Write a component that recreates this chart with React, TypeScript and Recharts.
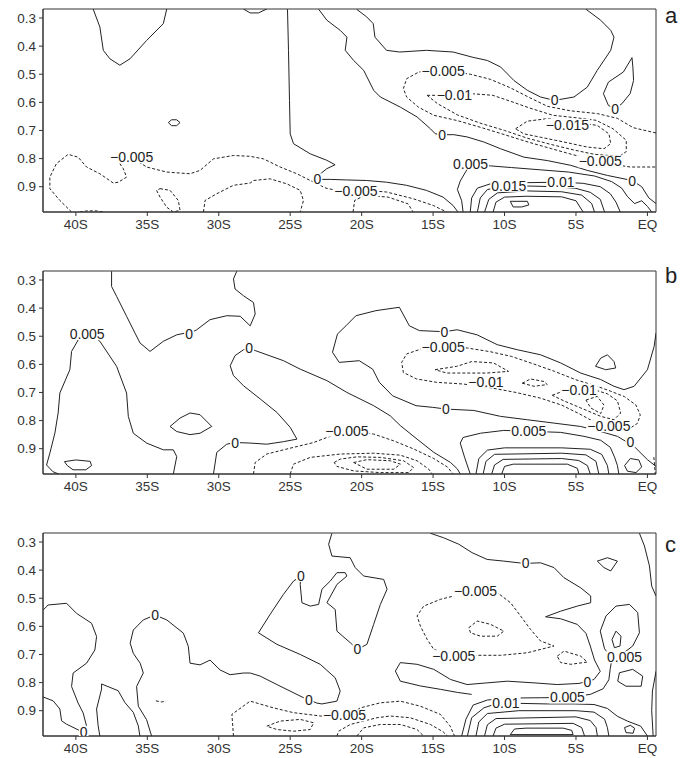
import React from 'react';
import { ComposedChart, Line, Scatter, XAxis, YAxis, ReferenceArea } from 'recharts';

type Pt = [number, number];
type Lbl = [number, number, string];

const lonTicks = [-40, -35, -30, -25, -20, -15, -10, -5, 0];
const sigmaTicks = [0.3, 0.4, 0.5, 0.6, 0.7, 0.8, 0.9];
const LON_MIN = -42.3;
const LON_MAX = 0.6;
const SIG_MIN = 0.268;
const SIG_MAX = 0.99;

// ---------- panel a ----------
const aZeroNW: Pt[] = [[-38.79, 0.268], [-38.32, 0.332], [-38.08, 0.415], [-37.62, 0.445], [-36.92, 0.468], [-36.21, 0.445], [-35.05, 0.38], [-33.88, 0.32], [-33.64, 0.268]];
const aLoopSmall: Pt[] = [[-33.53, 0.672], [-33.3, 0.662], [-32.95, 0.662], [-32.71, 0.672], [-32.95, 0.683], [-33.3, 0.683], [-33.53, 0.672]];
const aTopNub: Pt[] = [[-28.27, 0.268], [-27.8, 0.282], [-27.22, 0.282], [-26.64, 0.268]];
const aZeroWest: Pt[] = [[-25.19, 0.269], [-25.12, 0.415], [-25.05, 0.593], [-25.0, 0.712], [-24.77, 0.747], [-23.6, 0.783], [-22.44, 0.806], [-21.86, 0.822], [-22.44, 0.836], [-23.02, 0.86], [-23.09, 0.874], [-22.2, 0.874], [-21.05, 0.876], [-19.65, 0.878], [-18.26, 0.884], [-16.86, 0.895], [-15.47, 0.913], [-14.3, 0.937], [-13.6, 0.967], [-13.26, 0.99]];
const aZeroMid: Pt[] = [[-23.01, 0.269], [-22.43, 0.308], [-21.5, 0.344], [-21.03, 0.368], [-21.15, 0.415], [-20.56, 0.451], [-19.86, 0.486], [-19.16, 0.557], [-18.69, 0.581], [-17.29, 0.617], [-16.12, 0.652], [-15.19, 0.694], [-14.84, 0.712], [-14.37, 0.715], [-13.55, 0.715], [-12.62, 0.723], [-11.45, 0.741], [-10.28, 0.765], [-8.64, 0.795], [-7.01, 0.807], [-5.37, 0.824], [-4.21, 0.842], [-2.8, 0.86], [-1.07, 0.878], [-0.4, 0.9], [0.1, 0.94], [0.6, 0.96]];
const aZeroNE: Pt[] = [[-20.35, 0.269], [-19.65, 0.296], [-19.19, 0.32], [-19.07, 0.368], [-18.26, 0.415], [-17.33, 0.421], [-15.47, 0.415], [-13.6, 0.421], [-12.2, 0.44], [-11.21, 0.451], [-10.28, 0.474], [-9.35, 0.522], [-8.41, 0.557], [-7.48, 0.581], [-6.5, 0.593], [-5.14, 0.581], [-4.21, 0.546], [-3.51, 0.486], [-2.57, 0.415], [-2.34, 0.368], [-2.57, 0.344], [-3.27, 0.308], [-4.32, 0.268]];
const aLoopEast: Pt[] = [[-1.08, 0.441], [-1.02, 0.474], [-0.97, 0.522], [-1.21, 0.569], [-1.79, 0.605], [-2.26, 0.623], [-2.73, 0.611], [-3.08, 0.569], [-2.73, 0.528], [-1.68, 0.492], [-1.08, 0.441]];
const aNeg005West: Pt[] = [[-40.3, 0.99], [-41.12, 0.949], [-41.82, 0.907], [-41.82, 0.866], [-41.36, 0.818], [-40.54, 0.785], [-39.84, 0.795], [-39.25, 0.83], [-38.32, 0.854], [-37.38, 0.887], [-37.03, 0.884], [-36.45, 0.866], [-36.68, 0.836], [-36.92, 0.818], [-36.1, 0.795], [-35.05, 0.83], [-33.64, 0.848], [-32.01, 0.854], [-31.31, 0.842], [-30.37, 0.801], [-28.97, 0.789], [-27.8, 0.792], [-26.87, 0.801], [-25.7, 0.83], [-24.53, 0.854], [-23.6, 0.878], [-22.5, 0.905], [-21.5, 0.916], [-19.65, 0.913], [-18.25, 0.919], [-16.38, 0.943], [-14.98, 0.967], [-14.05, 0.99]];
const aNegBot: Pt[] = [[-39.72, 0.99], [-39.25, 0.986], [-38.55, 0.986], [-38.08, 0.99]];
const aNegDomeA: Pt[] = [[-31.07, 0.99], [-30.96, 0.949], [-30.14, 0.925], [-28.97, 0.895], [-27.8, 0.887], [-27.57, 0.878], [-26.4, 0.872], [-25.23, 0.89], [-24.3, 0.913], [-24.07, 0.949], [-24.3, 0.99]];
const aNegDomeB: Pt[] = [[-20.6, 0.99], [-20.49, 0.949], [-19.79, 0.931], [-18.15, 0.937], [-16.75, 0.961], [-16.4, 0.99]];
const aNegLoop: Pt[] = [[-34.11, 0.907], [-33.41, 0.913], [-32.83, 0.949], [-32.71, 0.984], [-33.18, 0.99], [-33.64, 0.973], [-34.11, 0.937], [-34.35, 0.913], [-34.11, 0.907]];
const aNeg005East: Pt[] = [[0.6, 0.709], [-1.0, 0.69], [-2.1, 0.657], [-3.5, 0.64], [-5.4, 0.63], [-7.0, 0.614], [-8.3, 0.582], [-9.6, 0.548], [-11.0, 0.518], [-12.4, 0.5], [-14.3, 0.487], [-16.0, 0.492], [-16.85, 0.516], [-17.08, 0.551], [-16.85, 0.581], [-16.03, 0.617], [-14.95, 0.646], [-13.3, 0.665], [-11.6, 0.69], [-10.0, 0.715], [-8.3, 0.742], [-6.7, 0.765], [-5.3, 0.785], [-3.9, 0.803], [-2.5, 0.82], [-1.2, 0.83], [0.6, 0.83]];
const aNeg010: Pt[] = [[-15.42, 0.575], [-13.51, 0.575], [-12.34, 0.569], [-10.82, 0.575], [-9.65, 0.595], [-8.25, 0.62], [-6.62, 0.646], [-4.98, 0.655], [-3.58, 0.664], [-2.41, 0.694], [-1.48, 0.735], [-1.48, 0.775], [-1.95, 0.792], [-3.7, 0.785], [-5.1, 0.77], [-6.73, 0.75], [-8.37, 0.728], [-10.0, 0.7], [-11.64, 0.675], [-13.28, 0.645], [-14.68, 0.605], [-15.42, 0.575]];
const aNeg015: Pt[] = [[-9.23, 0.694], [-8.41, 0.667], [-7.01, 0.658], [-5.14, 0.67], [-3.51, 0.682], [-2.69, 0.712], [-2.57, 0.747], [-3.04, 0.765], [-4.21, 0.759], [-5.85, 0.741], [-7.48, 0.724], [-8.65, 0.712], [-9.23, 0.694]];
const aPos005: Pt[] = [[-12.9, 0.99], [-13.0, 0.95], [-13.3, 0.91], [-13.1, 0.88], [-12.7, 0.845], [-12.38, 0.82], [-11.0, 0.826], [-9.5, 0.832], [-7.5, 0.84], [-5.5, 0.848], [-3.7, 0.862], [-2.5, 0.882], [-1.8, 0.905], [-1.4, 0.935], [-0.9, 0.96], [-0.4, 0.95], [0.0, 0.97], [0.3, 0.99]];
const aPos010: Pt[] = [[-12.4, 0.99], [-12.3, 0.94], [-11.9, 0.905], [-11.0, 0.89], [-9.0, 0.886], [-6.05, 0.884], [-4.5, 0.888], [-3.3, 0.9], [-2.6, 0.925], [-2.2, 0.955], [-1.9, 0.99]];
const aPos015: Pt[] = [[-11.9, 0.99], [-11.7, 0.94], [-11.2, 0.91], [-9.7, 0.897], [-8.0, 0.898], [-6.5, 0.9], [-5.0, 0.906], [-4.0, 0.92], [-3.3, 0.945], [-3.0, 0.99]];
const aPos020: Pt[] = [[-11.4, 0.99], [-11.1, 0.945], [-10.5, 0.922], [-8.5, 0.915], [-6.0, 0.918], [-4.6, 0.93], [-3.9, 0.96], [-3.7, 0.99]];
const aPos025: Pt[] = [[-10.8, 0.99], [-10.6, 0.955], [-10.0, 0.937], [-8.5, 0.934], [-6.0, 0.936], [-5.0, 0.95], [-4.5, 0.99]];
const aPosIn: Pt[] = [[-9.6, 0.952], [-8.4, 0.952], [-8.3, 0.965], [-8.8, 0.972], [-9.4, 0.972], [-9.6, 0.952]];

const aSolid = [aZeroNW, aLoopSmall, aTopNub, aZeroWest, aZeroMid, aZeroNE, aLoopEast, aPos005, aPos010, aPos015, aPos020, aPos025, aPosIn];
const aDashed = [aNeg005West, aNegBot, aNegDomeA, aNegDomeB, aNegLoop, aNeg005East, aNeg010, aNeg015];
const aLabels: Lbl[] = [
  [-36.1, 0.795, '\u22120.005'], [-23.1, 0.874, '0'], [-20.4, 0.915, '\u22120.005'],
  [-14.37, 0.715, '0'], [-6.5, 0.593, '0'], [-2.26, 0.623, '0'], [-1.07, 0.878, '0'],
  [-14.3, 0.487, '\u22120.005'], [-13.51, 0.575, '\u22120.01'], [-5.6, 0.68, '\u22120.015'],
  [-3.3, 0.81, '\u22120.005'], [-12.38, 0.818, '0.005'], [-9.7, 0.897, '0.015'], [-6.05, 0.884, '0.01'],
];

// ---------- panel b ----------
const bZeroNW: Pt[] = [[-37.5, 0.269], [-37.5, 0.323], [-37.15, 0.358], [-36.45, 0.429], [-35.86, 0.489], [-35.51, 0.524], [-34.81, 0.554], [-33.88, 0.518], [-32.94, 0.495], [-32.36, 0.489], [-32.08, 0.491], [-31.54, 0.477], [-30.61, 0.441], [-29.44, 0.427], [-28.5, 0.429], [-27.8, 0.463], [-27.45, 0.421], [-27.57, 0.38], [-28.27, 0.356], [-28.86, 0.332], [-28.97, 0.296], [-28.74, 0.269]];
const bPos005W: Pt[] = [[-41.2, 0.99], [-41.6, 0.982], [-42.05, 0.958], [-41.82, 0.916], [-41.47, 0.845], [-41.24, 0.773], [-41.12, 0.702], [-40.42, 0.619], [-40.3, 0.554], [-39.8, 0.51], [-39.21, 0.492], [-38.6, 0.505], [-38.32, 0.518], [-37.15, 0.607], [-36.45, 0.702], [-36.33, 0.785], [-35.98, 0.845], [-35.05, 0.88], [-33.88, 0.904], [-33.18, 0.904], [-32.94, 0.928], [-33.18, 0.99]];
const bLens: Pt[] = [[-33.41, 0.821], [-32.71, 0.791], [-32.01, 0.773], [-31.31, 0.779], [-30.49, 0.821], [-31.31, 0.845], [-32.01, 0.85], [-32.94, 0.839], [-33.41, 0.821]];
const bLoopSW: Pt[] = [[-40.8, 0.946], [-40.0, 0.94], [-39.0, 0.945], [-38.9, 0.96], [-39.3, 0.975], [-40.2, 0.975], [-40.6, 0.96], [-40.8, 0.946]];
const bZeroMid: Pt[] = [[-30.37, 0.99], [-30.14, 0.913], [-29.44, 0.884], [-28.86, 0.878], [-27.8, 0.88], [-26.64, 0.884], [-25.47, 0.875], [-24.53, 0.866], [-25.0, 0.824], [-25.93, 0.771], [-27.1, 0.723], [-28.27, 0.676], [-28.97, 0.64], [-29.2, 0.605], [-28.86, 0.569], [-28.27, 0.548], [-27.87, 0.543], [-27.45, 0.551], [-25.47, 0.587], [-24.3, 0.617], [-22.43, 0.658], [-21.03, 0.7], [-19.16, 0.747], [-18.0, 0.783], [-17.29, 0.818], [-16.12, 0.866], [-14.95, 0.913], [-13.78, 0.949], [-13.3, 0.972], [-13.1, 0.99]];
const bZeroE: Pt[] = [[0.6, 0.489], [0.47, 0.536], [0.0, 0.619], [-0.93, 0.678], [-1.64, 0.69], [-2.34, 0.678], [-3.27, 0.654], [-4.67, 0.631], [-6.07, 0.595], [-7.48, 0.566], [-9.11, 0.548], [-10.51, 0.53], [-11.92, 0.495], [-13.32, 0.477], [-14.2, 0.484], [-15.96, 0.48], [-16.66, 0.463], [-17.36, 0.397], [-19.0, 0.409], [-20.4, 0.427], [-21.1, 0.463], [-21.69, 0.492], [-22.04, 0.557], [-21.57, 0.593], [-20.17, 0.587], [-19.23, 0.617], [-18.76, 0.664], [-17.83, 0.712], [-16.19, 0.747], [-15.02, 0.753], [-14.1, 0.759], [-12.15, 0.764], [-10.28, 0.785], [-8.41, 0.797], [-6.54, 0.809], [-4.67, 0.821], [-3.27, 0.839], [-2.1, 0.856], [-0.93, 0.892], [0.0, 0.939], [0.6, 0.963]];
const bLoopTri: Pt[] = [[-3.63, 0.607], [-3.27, 0.578], [-2.8, 0.566], [-2.34, 0.59], [-2.22, 0.613], [-2.92, 0.619], [-3.63, 0.607]];
const bPos005: Pt[] = [[-12.4, 0.99], [-12.8, 0.93], [-13.1, 0.88], [-12.9, 0.86], [-11.68, 0.845], [-10.05, 0.835], [-8.3, 0.838], [-6.07, 0.842], [-4.44, 0.856], [-3.27, 0.87], [-2.6, 0.895], [-2.3, 0.93], [-2.1, 0.96], [-2.0, 0.99]];
const bU1: Pt[] = [[-12.0, 0.99], [-11.8, 0.935], [-11.2, 0.905], [-10.0, 0.897], [-6.0, 0.897], [-4.0, 0.902], [-3.2, 0.92], [-2.8, 0.96], [-2.7, 0.99]];
const bU2: Pt[] = [[-11.5, 0.99], [-11.3, 0.945], [-10.7, 0.92], [-6.0, 0.916], [-4.3, 0.922], [-3.6, 0.945], [-3.4, 0.99]];
const bU3: Pt[] = [[-10.9, 0.99], [-10.7, 0.958], [-10.1, 0.938], [-6.0, 0.935], [-4.8, 0.942], [-4.2, 0.96], [-4.0, 0.99]];
const bU4: Pt[] = [[-10.2, 0.99], [-10.0, 0.963], [-9.4, 0.955], [-5.6, 0.955], [-4.9, 0.97], [-4.8, 0.99]];
const bLoopEq: Pt[] = [[-1.6, 0.96], [-1.2, 0.935], [-0.6, 0.94], [-0.4, 0.965], [-0.8, 0.985], [-1.4, 0.98], [-1.6, 0.96]];
const bNeg005: Pt[] = [[-14.3, 0.537], [-15.7, 0.543], [-16.85, 0.563], [-17.2, 0.593], [-17.08, 0.629], [-16.15, 0.652], [-14.75, 0.664], [-12.88, 0.67], [-11.0, 0.683], [-9.2, 0.7], [-7.5, 0.72], [-6.0, 0.745], [-4.8, 0.775], [-3.9, 0.8], [-3.0, 0.815], [-2.2, 0.825], [-1.3, 0.83], [-0.7, 0.81], [-0.5, 0.78], [-0.8, 0.745], [-1.6, 0.715], [-2.6, 0.695], [-3.7, 0.675], [-5.0, 0.655], [-6.5, 0.625], [-8.0, 0.598], [-9.5, 0.572], [-11.0, 0.555], [-12.6, 0.542], [-14.3, 0.537]];
const bNegL1: Pt[] = [[-14.86, 0.619], [-13.34, 0.607], [-12.29, 0.59], [-10.77, 0.595], [-9.72, 0.625], [-11.24, 0.631], [-12.64, 0.631], [-14.04, 0.631], [-14.86, 0.619]];
const bNegL2: Pt[] = [[-8.76, 0.667], [-8.18, 0.652], [-7.24, 0.661], [-7.01, 0.672], [-7.94, 0.678], [-8.76, 0.667]];
const bNegL3: Pt[] = [[-6.66, 0.71], [-5.84, 0.694], [-3.74, 0.69], [-2.8, 0.705], [-2.1, 0.73], [-1.87, 0.773], [-2.34, 0.797], [-3.27, 0.785], [-4.67, 0.755], [-5.84, 0.73], [-6.66, 0.71]];
const bNegL4: Pt[] = [[-4.3, 0.727], [-3.51, 0.714], [-3.04, 0.745], [-3.27, 0.775], [-3.97, 0.755], [-4.3, 0.727]];
const bNegBot: Pt[] = [[-27.57, 0.99], [-27.45, 0.949], [-26.64, 0.919], [-25.23, 0.901], [-23.36, 0.878], [-22.43, 0.86], [-21.03, 0.836], [-19.16, 0.848], [-17.76, 0.872], [-16.36, 0.901], [-14.95, 0.935], [-14.0, 0.965], [-13.6, 0.99]];
const bNegDome1: Pt[] = [[-25.0, 0.99], [-24.77, 0.955], [-23.6, 0.931], [-21.5, 0.919], [-19.16, 0.916], [-17.29, 0.923], [-16.12, 0.943], [-15.3, 0.973], [-15.07, 0.99]];
const bNegDome2: Pt[] = [[-21.92, 0.949], [-21.5, 0.937], [-20.33, 0.929], [-18.69, 0.931], [-17.06, 0.943], [-16.36, 0.967], [-16.71, 0.985], [-18.69, 0.985], [-20.56, 0.979], [-21.73, 0.963], [-21.92, 0.949]];
const bNegDome3: Pt[] = [[-20.56, 0.949], [-19.63, 0.939], [-17.99, 0.943], [-17.29, 0.955], [-17.76, 0.973], [-19.63, 0.973], [-20.56, 0.949]];
const bDashEdge: Pt[] = [[0.45, 0.93], [0.5, 0.96], [0.55, 0.99]];

const bSolid = [bZeroNW, bPos005W, bLens, bLoopSW, bZeroMid, bZeroE, bLoopTri, bPos005, bU1, bU2, bU3, bU4, bLoopEq];
const bDashed = [bNeg005, bNegL1, bNegL2, bNegL3, bNegL4, bNegBot, bNegDome1, bNegDome2, bNegDome3, bDashEdge];
const bLabels: Lbl[] = [
  [-39.21, 0.492, '0.005'], [-32.08, 0.491, '0'], [-27.87, 0.543, '0'], [-28.86, 0.878, '0'],
  [-14.2, 0.484, '0'], [-14.3, 0.537, '\u22120.005'], [-11.3, 0.662, '\u22120.01'], [-4.79, 0.69, '\u22120.01'],
  [-14.1, 0.759, '0'], [-21.03, 0.836, '\u22120.005'], [-8.3, 0.838, '0.005'], [-2.7, 0.82, '\u22120.005'], [-1.2, 0.875, '0'],
];

// ---------- panel c ----------
const cZeroW: Pt[] = [[-42.29, 0.542], [-41.94, 0.524], [-40.65, 0.518], [-39.95, 0.554], [-38.9, 0.589], [-38.55, 0.636], [-38.67, 0.684], [-39.25, 0.731], [-40.19, 0.766], [-40.3, 0.814], [-39.84, 0.873], [-39.49, 0.908], [-39.25, 0.955], [-39.3, 0.975], [-39.45, 0.985], [-39.72, 0.971], [-40.65, 0.948], [-41.0, 0.936], [-41.12, 0.894], [-41.59, 0.865], [-42.3, 0.851]];
const cUW: Pt[] = [[-38.32, 0.99], [-38.44, 0.954], [-38.55, 0.894], [-38.2, 0.823], [-38.2, 0.805], [-37.62, 0.817], [-37.04, 0.829], [-36.57, 0.871], [-35.98, 0.906], [-35.63, 0.954], [-35.52, 0.99]];
const cZeroMid: Pt[] = [[-34.7, 0.99], [-35.05, 0.932], [-35.63, 0.884], [-35.75, 0.814], [-35.28, 0.766], [-35.5, 0.731], [-35.98, 0.696], [-36.2, 0.66], [-35.98, 0.613], [-35.28, 0.577], [-34.46, 0.56], [-33.64, 0.577], [-32.48, 0.624], [-32.13, 0.671], [-32.01, 0.731], [-31.31, 0.737], [-30.61, 0.72], [-29.91, 0.755], [-29.21, 0.772], [-28.27, 0.766], [-27.8, 0.766], [-27.1, 0.777], [-25.93, 0.807], [-24.06, 0.854], [-23.13, 0.873], [-22.78, 0.876], [-21.73, 0.866], [-21.5, 0.83], [-21.85, 0.783], [-22.9, 0.735], [-24.3, 0.7], [-25.93, 0.664], [-27.22, 0.623], [-26.4, 0.557], [-25.47, 0.486], [-24.77, 0.439], [-24.25, 0.421], [-24.3, 0.451], [-24.18, 0.516], [-23.6, 0.528], [-23.01, 0.522], [-22.78, 0.468], [-22.2, 0.439], [-21.73, 0.409], [-21.15, 0.409], [-21.03, 0.421], [-21.73, 0.451], [-22.43, 0.516], [-21.85, 0.54], [-21.73, 0.617], [-20.8, 0.658], [-20.29, 0.682], [-19.63, 0.664], [-19.16, 0.593], [-18.69, 0.522], [-18.22, 0.468], [-18.46, 0.433], [-19.86, 0.421], [-20.45, 0.391], [-20.8, 0.356], [-22.08, 0.35], [-22.31, 0.308], [-22.08, 0.269]];
const cZeroE: Pt[] = [[-15.19, 0.269], [-14.26, 0.285], [-13.2, 0.308], [-12.27, 0.338], [-11.22, 0.362], [-10.05, 0.368], [-9.0, 0.374], [-8.53, 0.376], [-7.48, 0.374], [-6.54, 0.391], [-5.84, 0.427], [-4.67, 0.463], [-3.97, 0.492], [-3.97, 0.516], [-4.91, 0.528], [-6.07, 0.546], [-7.13, 0.566], [-6.07, 0.573], [-4.91, 0.593], [-4.3, 0.625], [-4.0, 0.67], [-3.7, 0.72], [-3.3, 0.76], [-3.74, 0.789], [-4.79, 0.803], [-6.31, 0.807], [-7.94, 0.801], [-9.81, 0.795], [-11.22, 0.801], [-12.62, 0.807], [-13.78, 0.789], [-14.95, 0.753], [-16.12, 0.735], [-17.29, 0.729], [-17.64, 0.759], [-17.29, 0.795], [-15.89, 0.812], [-14.49, 0.824], [-13.3, 0.835], [-12.3, 0.842]];
const cRLoop: Pt[] = [[-3.3, 0.617], [-2.9, 0.563], [-2.2, 0.528], [-1.26, 0.522], [-0.68, 0.551], [-0.56, 0.623], [-1.03, 0.67], [-1.96, 0.706], [-2.5, 0.712], [-3.0, 0.68], [-3.3, 0.617]];
const cOval: Pt[] = [[-2.2, 0.617], [-1.85, 0.635], [-1.92, 0.67], [-2.31, 0.676], [-2.48, 0.647], [-2.2, 0.617]];
const cRLoop2: Pt[] = [[-2.08, 0.795], [-1.96, 0.765], [-1.03, 0.753], [-0.33, 0.777], [-0.44, 0.813], [-1.5, 0.813], [-2.08, 0.795]];
const cTopLoop: Pt[] = [[-3.51, 0.368], [-2.8, 0.356], [-2.1, 0.368], [-2.57, 0.403], [-3.04, 0.391], [-3.51, 0.368]];
const cEdgeTop: Pt[] = [[-0.56, 0.269], [-0.21, 0.314], [0.14, 0.385], [0.3, 0.457], [0.6, 0.492]];
const cEdgeBot: Pt[] = [[0.6, 0.76], [0.35, 0.83], [0.3, 0.9], [0.4, 0.99]];
const cPos005: Pt[] = [[-13.0, 0.99], [-12.7, 0.93], [-12.2, 0.88], [-11.2, 0.862], [-9.5, 0.855], [-7.5, 0.854], [-5.6, 0.853], [-4.0, 0.842], [-3.1, 0.822], [-2.7, 0.79], [-2.6, 0.75], [-2.5, 0.72]];
const cPos010: Pt[] = [[-12.6, 0.99], [-12.3, 0.925], [-11.45, 0.89], [-10.51, 0.874], [-9.9, 0.872], [-8.88, 0.874], [-7.0, 0.876], [-5.14, 0.876], [-3.74, 0.878], [-2.8, 0.892], [-2.1, 0.92], [-1.4, 0.937], [-0.47, 0.955], [0.0, 0.99]];
const cU2: Pt[] = [[-12.0, 0.99], [-11.8, 0.94], [-11.2, 0.91], [-9.0, 0.9], [-5.0, 0.9], [-3.74, 0.905], [-3.0, 0.93], [-2.8, 0.96], [-2.7, 0.99]];
const cU3: Pt[] = [[-11.4, 0.99], [-11.2, 0.95], [-10.6, 0.928], [-5.0, 0.922], [-4.0, 0.935], [-3.6, 0.96], [-3.5, 0.99]];
const cU4: Pt[] = [[-10.8, 0.99], [-10.6, 0.962], [-10.0, 0.948], [-5.2, 0.945], [-4.6, 0.96], [-4.4, 0.99]];
const cU5: Pt[] = [[-9.6, 0.985], [-9.3, 0.965], [-8.5, 0.962], [-5.9, 0.962], [-5.3, 0.97], [-5.2, 0.985], [-9.6, 0.985]];
const cEqLoop: Pt[] = [[-1.6, 0.96], [-1.2, 0.952], [-0.9, 0.962], [-1.0, 0.98], [-1.5, 0.978], [-1.6, 0.96]];
const cNeg005: Pt[] = [[-12.03, 0.474], [-10.51, 0.48], [-9.58, 0.516], [-8.88, 0.563], [-8.18, 0.611], [-7.48, 0.652], [-6.54, 0.67], [-7.01, 0.676], [-8.41, 0.694], [-10.28, 0.703], [-12.15, 0.703], [-13.55, 0.706], [-14.95, 0.682], [-15.42, 0.646], [-15.89, 0.599], [-16.12, 0.563], [-15.66, 0.528], [-14.49, 0.504], [-13.55, 0.492], [-12.03, 0.474]];
const cNegIn: Pt[] = [[-12.5, 0.605], [-11.92, 0.581], [-10.98, 0.593], [-10.05, 0.617], [-10.51, 0.635], [-11.68, 0.635], [-12.38, 0.623], [-12.5, 0.605]];
const cNegSmall: Pt[] = [[-6.31, 0.706], [-5.84, 0.688], [-4.67, 0.706], [-4.21, 0.727], [-5.37, 0.735], [-6.07, 0.729], [-6.31, 0.706]];
const cNegBot: Pt[] = [[-28.97, 0.99], [-29.08, 0.913], [-27.8, 0.866], [-26.17, 0.89], [-24.77, 0.907], [-22.54, 0.921], [-20.8, 0.915], [-20.1, 0.89], [-18.69, 0.872], [-17.29, 0.866], [-15.89, 0.884], [-14.49, 0.913], [-13.8, 0.955], [-13.5, 0.99]];
const cNegDomeA: Pt[] = [[-26.64, 0.955], [-25.7, 0.937], [-24.3, 0.931], [-23.36, 0.943], [-23.6, 0.967], [-24.77, 0.973], [-25.93, 0.967], [-26.64, 0.955]];
const cNegDomeB: Pt[] = [[-21.73, 0.99], [-21.61, 0.973], [-20.8, 0.949], [-19.86, 0.937], [-18.93, 0.925], [-18.0, 0.919], [-16.6, 0.925], [-15.19, 0.949], [-14.3, 0.975], [-14.0, 0.99]];
const cNegDomeC: Pt[] = [[-20.33, 0.99], [-19.86, 0.961], [-18.69, 0.949], [-17.29, 0.949], [-16.12, 0.967], [-15.66, 0.99]];
const cSquiggle: Pt[] = [[-34.4, 0.865], [-34.0, 0.869], [-33.7, 0.866]];

const cSolid = [cZeroW, cUW, cZeroMid, cZeroE, cRLoop, cOval, cRLoop2, cTopLoop, cEdgeTop, cEdgeBot, cPos005, cPos010, cU2, cU3, cU4, cU5, cEqLoop];
const cDashed = [cNeg005, cNegIn, cNegSmall, cNegBot, cNegDomeA, cNegDomeB, cNegDomeC, cSquiggle];
const cLabels: Lbl[] = [
  [-34.46, 0.56, '0'], [-24.25, 0.421, '0'], [-20.29, 0.682, '0'], [-23.7, 0.862, '0'], [-39.45, 0.975, '0'],
  [-21.2, 0.917, '\u22120.005'], [-8.53, 0.376, '0'], [-12.03, 0.474, '\u22120.005'], [-13.55, 0.706, '\u22120.005'],
  [-4.2, 0.798, '0'], [-1.6, 0.71, '0.005'], [-5.6, 0.853, '0.005'], [-9.9, 0.872, '0.01'],
];

const FONT = '"Liberation Sans", Arial, Helvetica, sans-serif';
const INK = '#222';

const fmtLon = (v: number) => (v === 0 ? 'EQ' : `${-v}S`);
const toXY = (pts: Pt[]) => pts.map(([x, y]) => ({ x, y }));

const textWidth = (t: string) =>
  t.split('').reduce((w, ch) => w + (ch === '.' ? 3.9 : ch === '\u2212' ? 8.2 : 7.8), 0);

const ContourText = (p: any) => {
  const t: string = p.payload.t;
  const w = textWidth(t) + 2;
  return (
    <g>
      <rect x={p.cx - w / 2} y={p.cy - 6} width={w} height={12} fill="#fff" />
      <text x={p.cx} y={p.cy + 5} textAnchor="middle" fontSize={14} fill={INK} fontFamily={FONT}>
        {t}
      </text>
    </g>
  );
};

function Panel({ solid, dashed, labels, letter, letterTop }: { solid: Pt[][]; dashed: Pt[][]; labels: Lbl[]; letter: string; letterTop: number }) {
  const labelData = labels.map(([x, y, t]) => ({ x, y, t }));
  return (
    <div style={{ position: 'relative', width: 670, height: 262 }}>
      <ComposedChart width={670} height={262} margin={{ top: 1, right: 22, bottom: 28, left: 0 }}>
        <XAxis
          dataKey="x"
          type="number"
          domain={[LON_MIN, LON_MAX]}
          ticks={lonTicks}
          tickFormatter={fmtLon}
          allowDataOverflow
          interval={0}
          height={30}
          tickSize={4}
          tickMargin={3}
          stroke="#333"
          tick={{ fontSize: 13.5, fill: '#333', fontFamily: FONT }}
        />
        <YAxis
          dataKey="y"
          type="number"
          domain={[SIG_MIN, SIG_MAX]}
          reversed
          ticks={sigmaTicks}
          tickFormatter={(v: number) => v.toFixed(1)}
          allowDataOverflow
          interval={0}
          width={35}
          tickSize={4}
          tickMargin={3}
          stroke="#333"
          tick={{ fontSize: 13.5, fill: '#333', fontFamily: FONT }}
        />
        <ReferenceArea x1={LON_MIN} x2={LON_MAX} y1={SIG_MIN} y2={SIG_MAX} fill="none" fillOpacity={0} stroke="#333" strokeWidth={1} />
        {solid.map((pts, i) => (
          <Line key={`s${i}`} data={toXY(pts)} dataKey="y" type="linear" stroke={INK} strokeWidth={1} dot={false} activeDot={false} isAnimationActive={false} />
        ))}
        {dashed.map((pts, i) => (
          <Line key={`d${i}`} data={toXY(pts)} dataKey="y" type="linear" stroke={INK} strokeWidth={1} strokeDasharray="3 2" dot={false} activeDot={false} isAnimationActive={false} />
        ))}
        <Scatter data={labelData} shape={ContourText} isAnimationActive={false} />
      </ComposedChart>
      <div style={{ position: 'absolute', left: 657, top: letterTop, fontSize: 22, lineHeight: '22px', fontFamily: FONT, color: INK }}>{letter}</div>
    </div>
  );
}

export default function App() {
  return (
    <div style={{ width: 680, fontFamily: FONT }}>
      <Panel solid={aSolid} dashed={aDashed} labels={aLabels} letter="a" letterTop={-3} />
      <Panel solid={bSolid} dashed={bDashed} labels={bLabels} letter="b" letterTop={-5} />
      <Panel solid={cSolid} dashed={cDashed} labels={cLabels} letter="c" letterTop={2} />
    </div>
  );
}
